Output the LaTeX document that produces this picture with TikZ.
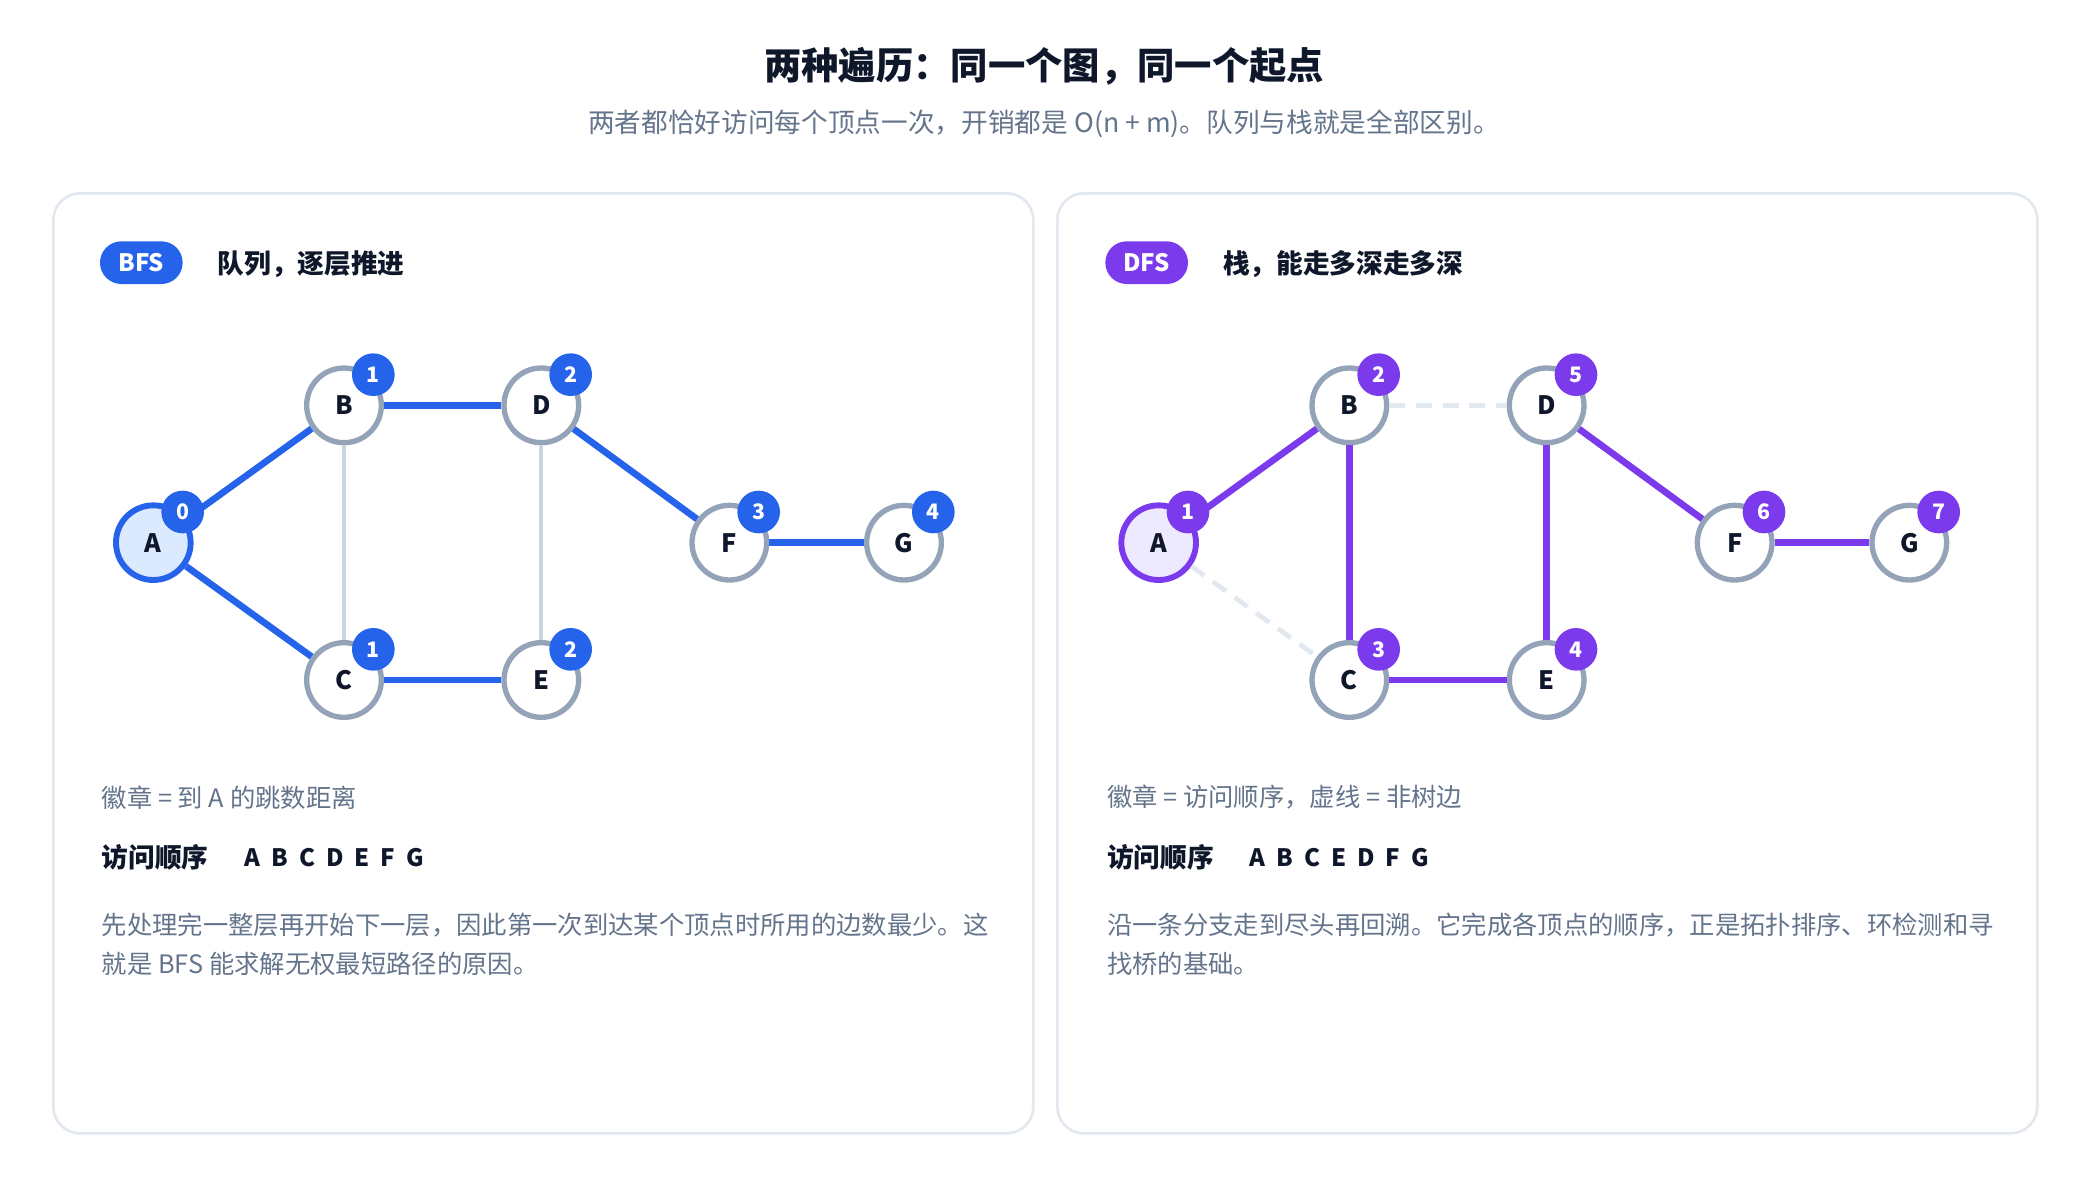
\documentclass[tikz,border=0pt]{standalone}
\usepackage{fontspec}
\setmainfont{Noto Sans CJK SC}
\usetikzlibrary{positioning}
\definecolor{ink}{HTML}{0F172A}
\definecolor{muted}{HTML}{64748B}
\definecolor{frame}{HTML}{E2E8F0}
\definecolor{vgray}{HTML}{94A3B8}
\definecolor{lgray}{HTML}{CBD5E1}
\definecolor{bfsc}{HTML}{2563EB}
\definecolor{bfsl}{HTML}{DBEAFE}
\definecolor{dfsc}{HTML}{7C3AED}
\definecolor{dfsl}{HTML}{EDE9FE}
\tikzset{
  vert/.style={circle, draw=vgray, line width=2pt, fill=white, minimum size=28pt,
    inner sep=0pt, font=\fontsize{9.5}{10}\selectfont\bfseries, text=ink},
  start/.style={vert, draw=#1, line width=2.2pt},
  tag/.style={circle, fill=#1, text=white, minimum size=16pt, inner sep=0pt,
    font=\fontsize{8}{9}\selectfont\bfseries},
  pill/.style={rounded corners=8pt, fill=#1, text=white, minimum width=31pt,
    minimum height=16pt, inner sep=0pt, font=\fontsize{9}{10}\selectfont\bfseries},
  tree/.style={line width=2.5pt, draw=#1},
  back/.style={line width=1.5pt, draw=lgray},
  ghost/.style={line width=1.8pt, draw=frame, dash pattern=on 6pt off 4pt},
  note/.style={anchor=west, inner sep=0pt, text=muted, font=\fontsize{9.5}{12}\selectfont},
  head/.style={anchor=west, inner sep=0pt, text=ink, font=\fontsize{10}{12}\selectfont\bfseries},
  card/.style={draw=frame, line width=1pt, rounded corners=10pt}
}
\begin{document}
\begin{tikzpicture}[x=0.5pt, y=-0.5pt]
  \useasboundingbox (0,0) rectangle (1560,900);
  % titles
  \node[inner sep=0pt, text=ink, font=\fontsize{14}{16}\selectfont\bfseries] (title) at (783,50)
    {两种遍历：同一个图，同一个起点};
  \node[inner sep=0pt, text=muted, font=\fontsize{10}{12}\selectfont] (sub) at (783,93)
    {两者都恰好访问每个顶点一次，开销都是 O(n + m)。队列与栈就是全部区别。};
  % cards
  \draw[card] (40,145) rectangle (775,850);
  \draw[card] (793,145) rectangle (1528,850);

  % BFS panel
  \node[pill=bfsc] (bfs) at (106,197) {BFS};
  \node[head] (bfsh) at (163,198) {队列，逐层推进};
  \node[start=bfsc, fill=bfsl] (a1) at (115,407) {A};
  \node[vert] (b1) at (258,304) {B};
  \node[vert] (d1) at (406,304) {D};
  \node[vert] (f1) at (547,407) {F};
  \node[vert] (g1) at (678,407) {G};
  \node[vert] (c1) at (258,510) {C};
  \node[vert] (e1) at (406,510) {E};
  \begin{scope}[on background layer/.style={}]
  \end{scope}
  \draw[back] (b1) -- (c1);
  \draw[back] (d1) -- (e1);
  \foreach \s/\t in {a1/b1, a1/c1, b1/d1, c1/e1, d1/f1, f1/g1}
    \draw[tree=bfsc] (\s) -- (\t);
  \foreach \v/\n in {a1/0, b1/1, c1/1, d1/2, e1/2, f1/3, g1/4}
    \node[tag=bfsc] at ([shift={(22,-23)}]\v.center) {\n};
  \node[note] (bfsn) at (76,598) {徽章 = 到 A 的跳数距离};
  \node[head] (bfso) at (76,643) {访问顺序};
  \node[head, font=\fontsize{9}{12}\selectfont\bfseries] at (183,643) {A\ \ B\ \ C\ \ D\ \ E\ \ F\ \ G};
  \node[note] (bfsp1) at (76,694) {先处理完一整层再开始下一层，因此第一次到达某个顶点时所用的边数最少。这};
  \node[note] (bfsp2) at (76,723) {就是 BFS 能求解无权最短路径的原因。};

  % DFS panel
  \node[pill=dfsc] (dfs) at (860,197) {DFS};
  \node[head] (dfsh) at (917,198) {栈，能走多深走多深};
  \node[start=dfsc, fill=dfsl] (a2) at (869,407) {A};
  \node[vert] (b2) at (1012,304) {B};
  \node[vert] (d2) at (1160,304) {D};
  \node[vert] (f2) at (1301,407) {F};
  \node[vert] (g2) at (1432,407) {G};
  \node[vert] (c2) at (1012,510) {C};
  \node[vert] (e2) at (1160,510) {E};
  \draw[ghost] (b2) -- (d2);
  \draw[ghost] (a2) -- (c2);
  \foreach \s/\t in {a2/b2, b2/c2, c2/e2, e2/d2, d2/f2, f2/g2}
    \draw[tree=dfsc] (\s) -- (\t);
  \foreach \v/\n in {a2/1, b2/2, c2/3, e2/4, d2/5, f2/6, g2/7}
    \node[tag=dfsc] at ([shift={(22,-23)}]\v.center) {\n};
  \node[note] (dfsn) at (830,598) {徽章 = 访问顺序，虚线 = 非树边};
  \node[head] (dfso) at (830,643) {访问顺序};
  \node[head, font=\fontsize{9}{12}\selectfont\bfseries] at (937,643) {A\ \ B\ \ C\ \ E\ \ D\ \ F\ \ G};
  \node[note] (dfsp1) at (830,694) {沿一条分支走到尽头再回溯。它完成各顶点的顺序，正是拓扑排序、环检测和寻};
  \node[note] (dfsp2) at (830,723) {找桥的基础。};
\end{tikzpicture}
\end{document}
